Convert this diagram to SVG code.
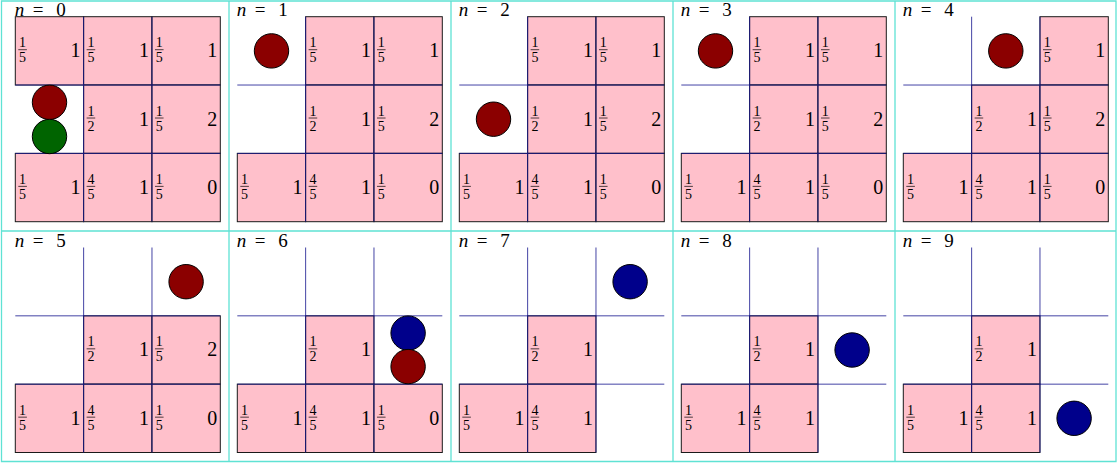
<svg xmlns="http://www.w3.org/2000/svg" width="1117" height="464" viewBox="0 0 1117 464">
<style>
.cell{fill:#ffc0cb;stroke:#1a1a1a;stroke-width:1}
.grid{fill:none;stroke:#15158f;stroke-width:1;opacity:0.8}
.bar{stroke:#000;stroke-width:0.7}
.fr{font-family:"Liberation Serif",serif;font-size:14px;text-anchor:middle;fill:#000}
.big{font-family:"Liberation Serif",serif;font-size:20px;text-anchor:end;fill:#000}
.title{font-family:"Liberation Serif",serif;font-size:19px;fill:#000}
.frame{fill:none;stroke:#5fe2d4;stroke-width:1.3}
.ball{stroke:#000;stroke-width:1}
.red{fill:#8b0000}.green{fill:#006400}.blue{fill:#00008b}
</style>
<rect width="1117" height="464" fill="#fff"/>
<g id="frames">
<path class="frame" d="M1.5 1H1116V461.5H1.5ZM229 1V461.5M451 1V461.5M673 1V461.5M895 1V461.5M1.5 231H1116"/>
</g>

<g id="panel-0" transform="translate(15.3,16.7)">
<text class="title" x="-0.5" y="-1"><tspan font-style="italic">n</tspan><tspan x="17.5">=</tspan><tspan x="41">0</tspan></text>
<g transform="translate(0,0)"><rect class="cell" width="68.33" height="68.33"/><text class="fr" x="7.3" y="30.5">1</text><path class="bar" d="M3 33H11.6"/><text class="fr" x="7.3" y="45.5">5</text><text class="big" x="65.3" y="40.5">1</text></g>
<g transform="translate(68.33,0)"><rect class="cell" width="68.33" height="68.33"/><text class="fr" x="7.3" y="30.5">1</text><path class="bar" d="M3 33H11.6"/><text class="fr" x="7.3" y="45.5">5</text><text class="big" x="65.3" y="40.5">1</text></g>
<g transform="translate(136.67,0)"><rect class="cell" width="68.33" height="68.33"/><text class="fr" x="7.3" y="30.5">1</text><path class="bar" d="M3 33H11.6"/><text class="fr" x="7.3" y="45.5">5</text><text class="big" x="65.3" y="40.5">1</text></g>
<g transform="translate(68.33,68.33)"><rect class="cell" width="68.33" height="68.33"/><text class="fr" x="7.3" y="30.5">1</text><path class="bar" d="M3 33H11.6"/><text class="fr" x="7.3" y="45.5">2</text><text class="big" x="65.3" y="40.5">1</text></g>
<g transform="translate(136.67,68.33)"><rect class="cell" width="68.33" height="68.33"/><text class="fr" x="7.3" y="30.5">1</text><path class="bar" d="M3 33H11.6"/><text class="fr" x="7.3" y="45.5">5</text><text class="big" x="65.3" y="40.5">2</text></g>
<g transform="translate(0,136.67)"><rect class="cell" width="68.33" height="68.33"/><text class="fr" x="7.3" y="30.5">1</text><path class="bar" d="M3 33H11.6"/><text class="fr" x="7.3" y="45.5">5</text><text class="big" x="65.3" y="40.5">1</text></g>
<g transform="translate(68.33,136.67)"><rect class="cell" width="68.33" height="68.33"/><text class="fr" x="7.3" y="30.5">4</text><path class="bar" d="M3 33H11.6"/><text class="fr" x="7.3" y="45.5">5</text><text class="big" x="65.3" y="40.5">1</text></g>
<g transform="translate(136.67,136.67)"><rect class="cell" width="68.33" height="68.33"/><text class="fr" x="7.3" y="30.5">1</text><path class="bar" d="M3 33H11.6"/><text class="fr" x="7.3" y="45.5">5</text><text class="big" x="65.3" y="40.5">0</text></g>
</g>

<g id="panel-1" transform="translate(237.3,16.7)">
<text class="title" x="-0.5" y="-1"><tspan font-style="italic">n</tspan><tspan x="17.5">=</tspan><tspan x="41">1</tspan></text>
<g transform="translate(68.33,0)"><rect class="cell" width="68.33" height="68.33"/><text class="fr" x="7.3" y="30.5">1</text><path class="bar" d="M3 33H11.6"/><text class="fr" x="7.3" y="45.5">5</text><text class="big" x="65.3" y="40.5">1</text></g>
<g transform="translate(136.67,0)"><rect class="cell" width="68.33" height="68.33"/><text class="fr" x="7.3" y="30.5">1</text><path class="bar" d="M3 33H11.6"/><text class="fr" x="7.3" y="45.5">5</text><text class="big" x="65.3" y="40.5">1</text></g>
<g transform="translate(68.33,68.33)"><rect class="cell" width="68.33" height="68.33"/><text class="fr" x="7.3" y="30.5">1</text><path class="bar" d="M3 33H11.6"/><text class="fr" x="7.3" y="45.5">2</text><text class="big" x="65.3" y="40.5">1</text></g>
<g transform="translate(136.67,68.33)"><rect class="cell" width="68.33" height="68.33"/><text class="fr" x="7.3" y="30.5">1</text><path class="bar" d="M3 33H11.6"/><text class="fr" x="7.3" y="45.5">5</text><text class="big" x="65.3" y="40.5">2</text></g>
<g transform="translate(0,136.67)"><rect class="cell" width="68.33" height="68.33"/><text class="fr" x="7.3" y="30.5">1</text><path class="bar" d="M3 33H11.6"/><text class="fr" x="7.3" y="45.5">5</text><text class="big" x="65.3" y="40.5">1</text></g>
<g transform="translate(68.33,136.67)"><rect class="cell" width="68.33" height="68.33"/><text class="fr" x="7.3" y="30.5">4</text><path class="bar" d="M3 33H11.6"/><text class="fr" x="7.3" y="45.5">5</text><text class="big" x="65.3" y="40.5">1</text></g>
<g transform="translate(136.67,136.67)"><rect class="cell" width="68.33" height="68.33"/><text class="fr" x="7.3" y="30.5">1</text><path class="bar" d="M3 33H11.6"/><text class="fr" x="7.3" y="45.5">5</text><text class="big" x="65.3" y="40.5">0</text></g>
</g>

<g id="panel-2" transform="translate(459.3,16.7)">
<text class="title" x="-0.5" y="-1"><tspan font-style="italic">n</tspan><tspan x="17.5">=</tspan><tspan x="41">2</tspan></text>
<g transform="translate(68.33,0)"><rect class="cell" width="68.33" height="68.33"/><text class="fr" x="7.3" y="30.5">1</text><path class="bar" d="M3 33H11.6"/><text class="fr" x="7.3" y="45.5">5</text><text class="big" x="65.3" y="40.5">1</text></g>
<g transform="translate(136.67,0)"><rect class="cell" width="68.33" height="68.33"/><text class="fr" x="7.3" y="30.5">1</text><path class="bar" d="M3 33H11.6"/><text class="fr" x="7.3" y="45.5">5</text><text class="big" x="65.3" y="40.5">1</text></g>
<g transform="translate(68.33,68.33)"><rect class="cell" width="68.33" height="68.33"/><text class="fr" x="7.3" y="30.5">1</text><path class="bar" d="M3 33H11.6"/><text class="fr" x="7.3" y="45.5">2</text><text class="big" x="65.3" y="40.5">1</text></g>
<g transform="translate(136.67,68.33)"><rect class="cell" width="68.33" height="68.33"/><text class="fr" x="7.3" y="30.5">1</text><path class="bar" d="M3 33H11.6"/><text class="fr" x="7.3" y="45.5">5</text><text class="big" x="65.3" y="40.5">2</text></g>
<g transform="translate(0,136.67)"><rect class="cell" width="68.33" height="68.33"/><text class="fr" x="7.3" y="30.5">1</text><path class="bar" d="M3 33H11.6"/><text class="fr" x="7.3" y="45.5">5</text><text class="big" x="65.3" y="40.5">1</text></g>
<g transform="translate(68.33,136.67)"><rect class="cell" width="68.33" height="68.33"/><text class="fr" x="7.3" y="30.5">4</text><path class="bar" d="M3 33H11.6"/><text class="fr" x="7.3" y="45.5">5</text><text class="big" x="65.3" y="40.5">1</text></g>
<g transform="translate(136.67,136.67)"><rect class="cell" width="68.33" height="68.33"/><text class="fr" x="7.3" y="30.5">1</text><path class="bar" d="M3 33H11.6"/><text class="fr" x="7.3" y="45.5">5</text><text class="big" x="65.3" y="40.5">0</text></g>
</g>

<g id="panel-3" transform="translate(681.3,16.7)">
<text class="title" x="-0.5" y="-1"><tspan font-style="italic">n</tspan><tspan x="17.5">=</tspan><tspan x="41">3</tspan></text>
<g transform="translate(68.33,0)"><rect class="cell" width="68.33" height="68.33"/><text class="fr" x="7.3" y="30.5">1</text><path class="bar" d="M3 33H11.6"/><text class="fr" x="7.3" y="45.5">5</text><text class="big" x="65.3" y="40.5">1</text></g>
<g transform="translate(136.67,0)"><rect class="cell" width="68.33" height="68.33"/><text class="fr" x="7.3" y="30.5">1</text><path class="bar" d="M3 33H11.6"/><text class="fr" x="7.3" y="45.5">5</text><text class="big" x="65.3" y="40.5">1</text></g>
<g transform="translate(68.33,68.33)"><rect class="cell" width="68.33" height="68.33"/><text class="fr" x="7.3" y="30.5">1</text><path class="bar" d="M3 33H11.6"/><text class="fr" x="7.3" y="45.5">2</text><text class="big" x="65.3" y="40.5">1</text></g>
<g transform="translate(136.67,68.33)"><rect class="cell" width="68.33" height="68.33"/><text class="fr" x="7.3" y="30.5">1</text><path class="bar" d="M3 33H11.6"/><text class="fr" x="7.3" y="45.5">5</text><text class="big" x="65.3" y="40.5">2</text></g>
<g transform="translate(0,136.67)"><rect class="cell" width="68.33" height="68.33"/><text class="fr" x="7.3" y="30.5">1</text><path class="bar" d="M3 33H11.6"/><text class="fr" x="7.3" y="45.5">5</text><text class="big" x="65.3" y="40.5">1</text></g>
<g transform="translate(68.33,136.67)"><rect class="cell" width="68.33" height="68.33"/><text class="fr" x="7.3" y="30.5">4</text><path class="bar" d="M3 33H11.6"/><text class="fr" x="7.3" y="45.5">5</text><text class="big" x="65.3" y="40.5">1</text></g>
<g transform="translate(136.67,136.67)"><rect class="cell" width="68.33" height="68.33"/><text class="fr" x="7.3" y="30.5">1</text><path class="bar" d="M3 33H11.6"/><text class="fr" x="7.3" y="45.5">5</text><text class="big" x="65.3" y="40.5">0</text></g>
</g>

<g id="panel-4" transform="translate(903.3,16.7)">
<text class="title" x="-0.5" y="-1"><tspan font-style="italic">n</tspan><tspan x="17.5">=</tspan><tspan x="41">4</tspan></text>
<g transform="translate(136.67,0)"><rect class="cell" width="68.33" height="68.33"/><text class="fr" x="7.3" y="30.5">1</text><path class="bar" d="M3 33H11.6"/><text class="fr" x="7.3" y="45.5">5</text><text class="big" x="65.3" y="40.5">1</text></g>
<g transform="translate(68.33,68.33)"><rect class="cell" width="68.33" height="68.33"/><text class="fr" x="7.3" y="30.5">1</text><path class="bar" d="M3 33H11.6"/><text class="fr" x="7.3" y="45.5">2</text><text class="big" x="65.3" y="40.5">1</text></g>
<g transform="translate(136.67,68.33)"><rect class="cell" width="68.33" height="68.33"/><text class="fr" x="7.3" y="30.5">1</text><path class="bar" d="M3 33H11.6"/><text class="fr" x="7.3" y="45.5">5</text><text class="big" x="65.3" y="40.5">2</text></g>
<g transform="translate(0,136.67)"><rect class="cell" width="68.33" height="68.33"/><text class="fr" x="7.3" y="30.5">1</text><path class="bar" d="M3 33H11.6"/><text class="fr" x="7.3" y="45.5">5</text><text class="big" x="65.3" y="40.5">1</text></g>
<g transform="translate(68.33,136.67)"><rect class="cell" width="68.33" height="68.33"/><text class="fr" x="7.3" y="30.5">4</text><path class="bar" d="M3 33H11.6"/><text class="fr" x="7.3" y="45.5">5</text><text class="big" x="65.3" y="40.5">1</text></g>
<g transform="translate(136.67,136.67)"><rect class="cell" width="68.33" height="68.33"/><text class="fr" x="7.3" y="30.5">1</text><path class="bar" d="M3 33H11.6"/><text class="fr" x="7.3" y="45.5">5</text><text class="big" x="65.3" y="40.5">0</text></g>
</g>

<g id="panel-5" transform="translate(15.3,247.5)">
<text class="title" x="-0.5" y="-1"><tspan font-style="italic">n</tspan><tspan x="17.5">=</tspan><tspan x="41">5</tspan></text>
<g transform="translate(68.33,68.33)"><rect class="cell" width="68.33" height="68.33"/><text class="fr" x="7.3" y="30.5">1</text><path class="bar" d="M3 33H11.6"/><text class="fr" x="7.3" y="45.5">2</text><text class="big" x="65.3" y="40.5">1</text></g>
<g transform="translate(136.67,68.33)"><rect class="cell" width="68.33" height="68.33"/><text class="fr" x="7.3" y="30.5">1</text><path class="bar" d="M3 33H11.6"/><text class="fr" x="7.3" y="45.5">5</text><text class="big" x="65.3" y="40.5">2</text></g>
<g transform="translate(0,136.67)"><rect class="cell" width="68.33" height="68.33"/><text class="fr" x="7.3" y="30.5">1</text><path class="bar" d="M3 33H11.6"/><text class="fr" x="7.3" y="45.5">5</text><text class="big" x="65.3" y="40.5">1</text></g>
<g transform="translate(68.33,136.67)"><rect class="cell" width="68.33" height="68.33"/><text class="fr" x="7.3" y="30.5">4</text><path class="bar" d="M3 33H11.6"/><text class="fr" x="7.3" y="45.5">5</text><text class="big" x="65.3" y="40.5">1</text></g>
<g transform="translate(136.67,136.67)"><rect class="cell" width="68.33" height="68.33"/><text class="fr" x="7.3" y="30.5">1</text><path class="bar" d="M3 33H11.6"/><text class="fr" x="7.3" y="45.5">5</text><text class="big" x="65.3" y="40.5">0</text></g>
</g>

<g id="panel-6" transform="translate(237.3,247.5)">
<text class="title" x="-0.5" y="-1"><tspan font-style="italic">n</tspan><tspan x="17.5">=</tspan><tspan x="41">6</tspan></text>
<g transform="translate(68.33,68.33)"><rect class="cell" width="68.33" height="68.33"/><text class="fr" x="7.3" y="30.5">1</text><path class="bar" d="M3 33H11.6"/><text class="fr" x="7.3" y="45.5">2</text><text class="big" x="65.3" y="40.5">1</text></g>
<g transform="translate(0,136.67)"><rect class="cell" width="68.33" height="68.33"/><text class="fr" x="7.3" y="30.5">1</text><path class="bar" d="M3 33H11.6"/><text class="fr" x="7.3" y="45.5">5</text><text class="big" x="65.3" y="40.5">1</text></g>
<g transform="translate(68.33,136.67)"><rect class="cell" width="68.33" height="68.33"/><text class="fr" x="7.3" y="30.5">4</text><path class="bar" d="M3 33H11.6"/><text class="fr" x="7.3" y="45.5">5</text><text class="big" x="65.3" y="40.5">1</text></g>
<g transform="translate(136.67,136.67)"><rect class="cell" width="68.33" height="68.33"/><text class="fr" x="7.3" y="30.5">1</text><path class="bar" d="M3 33H11.6"/><text class="fr" x="7.3" y="45.5">5</text><text class="big" x="65.3" y="40.5">0</text></g>
</g>

<g id="panel-7" transform="translate(459.3,247.5)">
<text class="title" x="-0.5" y="-1"><tspan font-style="italic">n</tspan><tspan x="17.5">=</tspan><tspan x="41">7</tspan></text>
<g transform="translate(68.33,68.33)"><rect class="cell" width="68.33" height="68.33"/><text class="fr" x="7.3" y="30.5">1</text><path class="bar" d="M3 33H11.6"/><text class="fr" x="7.3" y="45.5">2</text><text class="big" x="65.3" y="40.5">1</text></g>
<g transform="translate(0,136.67)"><rect class="cell" width="68.33" height="68.33"/><text class="fr" x="7.3" y="30.5">1</text><path class="bar" d="M3 33H11.6"/><text class="fr" x="7.3" y="45.5">5</text><text class="big" x="65.3" y="40.5">1</text></g>
<g transform="translate(68.33,136.67)"><rect class="cell" width="68.33" height="68.33"/><text class="fr" x="7.3" y="30.5">4</text><path class="bar" d="M3 33H11.6"/><text class="fr" x="7.3" y="45.5">5</text><text class="big" x="65.3" y="40.5">1</text></g>
</g>

<g id="panel-8" transform="translate(681.3,247.5)">
<text class="title" x="-0.5" y="-1"><tspan font-style="italic">n</tspan><tspan x="17.5">=</tspan><tspan x="41">8</tspan></text>
<g transform="translate(68.33,68.33)"><rect class="cell" width="68.33" height="68.33"/><text class="fr" x="7.3" y="30.5">1</text><path class="bar" d="M3 33H11.6"/><text class="fr" x="7.3" y="45.5">2</text><text class="big" x="65.3" y="40.5">1</text></g>
<g transform="translate(0,136.67)"><rect class="cell" width="68.33" height="68.33"/><text class="fr" x="7.3" y="30.5">1</text><path class="bar" d="M3 33H11.6"/><text class="fr" x="7.3" y="45.5">5</text><text class="big" x="65.3" y="40.5">1</text></g>
<g transform="translate(68.33,136.67)"><rect class="cell" width="68.33" height="68.33"/><text class="fr" x="7.3" y="30.5">4</text><path class="bar" d="M3 33H11.6"/><text class="fr" x="7.3" y="45.5">5</text><text class="big" x="65.3" y="40.5">1</text></g>
</g>

<g id="panel-9" transform="translate(903.3,247.5)">
<text class="title" x="-0.5" y="-1"><tspan font-style="italic">n</tspan><tspan x="17.5">=</tspan><tspan x="41">9</tspan></text>
<g transform="translate(68.33,68.33)"><rect class="cell" width="68.33" height="68.33"/><text class="fr" x="7.3" y="30.5">1</text><path class="bar" d="M3 33H11.6"/><text class="fr" x="7.3" y="45.5">2</text><text class="big" x="65.3" y="40.5">1</text></g>
<g transform="translate(0,136.67)"><rect class="cell" width="68.33" height="68.33"/><text class="fr" x="7.3" y="30.5">1</text><path class="bar" d="M3 33H11.6"/><text class="fr" x="7.3" y="45.5">5</text><text class="big" x="65.3" y="40.5">1</text></g>
<g transform="translate(68.33,136.67)"><rect class="cell" width="68.33" height="68.33"/><text class="fr" x="7.3" y="30.5">4</text><path class="bar" d="M3 33H11.6"/><text class="fr" x="7.3" y="45.5">5</text><text class="big" x="65.3" y="40.5">1</text></g>
</g>

<g id="connectors">
<path class="grid" transform="translate(15.3,16.7)" d="M68.33 0V205M136.67 0V205M0 68.33H205M0 136.67H205"/>
<path class="grid" transform="translate(237.3,16.7)" d="M68.33 0V205M136.67 0V205M0 68.33H205M0 136.67H205"/>
<path class="grid" transform="translate(459.3,16.7)" d="M68.33 0V205M136.67 0V205M0 68.33H205M0 136.67H205"/>
<path class="grid" transform="translate(681.3,16.7)" d="M68.33 0V205M136.67 0V205M0 68.33H205M0 136.67H205"/>
<path class="grid" transform="translate(903.3,16.7)" d="M68.33 0V205M136.67 0V205M0 68.33H205M0 136.67H205"/>
<path class="grid" transform="translate(15.3,247.5)" d="M68.33 0V205M136.67 0V205M0 68.33H205M0 136.67H205"/>
<path class="grid" transform="translate(237.3,247.5)" d="M68.33 0V205M136.67 0V205M0 68.33H205M0 136.67H205"/>
<path class="grid" transform="translate(459.3,247.5)" d="M68.33 0V205M136.67 0V205M0 68.33H205M0 136.67H205"/>
<path class="grid" transform="translate(681.3,247.5)" d="M68.33 0V205M136.67 0V205M0 68.33H205M0 136.67H205"/>
<path class="grid" transform="translate(903.3,247.5)" d="M68.33 0V205M136.67 0V205M0 68.33H205M0 136.67H205"/>
</g>

<g id="balls">
<circle class="ball red" cx="49.5" cy="102.3" r="17.2"/>
<circle class="ball green" cx="49.5" cy="136.5" r="17.2"/>
<circle class="ball red" cx="271.5" cy="50.9" r="17.2"/>
<circle class="ball red" cx="493.5" cy="119.2" r="17.2"/>
<circle class="ball red" cx="715.5" cy="50.9" r="17.2"/>
<circle class="ball red" cx="1005.8" cy="50.9" r="17.2"/>
<circle class="ball red" cx="186.1" cy="281.7" r="17.2"/>
<circle class="ball blue" cx="408.1" cy="333.1" r="17.2"/>
<circle class="ball red" cx="408.1" cy="366.6" r="17.2"/>
<circle class="ball blue" cx="630.1" cy="281.7" r="17.2"/>
<circle class="ball blue" cx="852.1" cy="350" r="17.2"/>
<circle class="ball blue" cx="1074.1" cy="418.3" r="17.2"/>
</g>
</svg>
